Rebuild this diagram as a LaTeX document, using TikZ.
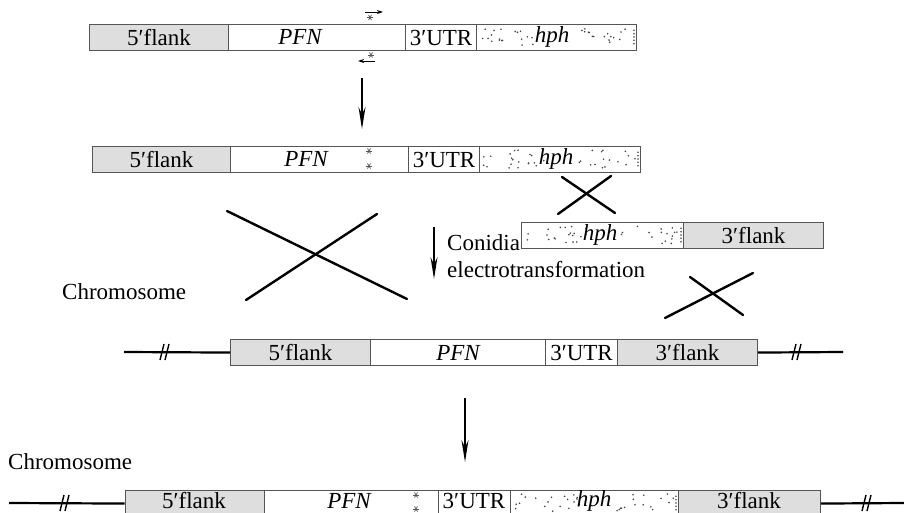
\documentclass[tikz,border=0pt]{standalone}
\usepackage{fontspec}
\setmainfont{Liberation Serif}
\usetikzlibrary{arrows.meta}
\definecolor{flankgray}{RGB}{222,222,222}
\definecolor{edgegray}{RGB}{85,85,85}
\definecolor{dotgray}{RGB}{70,70,70}

% scatter of small dots inside the marker segment: x0, y0, width, height, seed
\newcommand\stipple[5]{%
  \pgfmathsetseed{#5}%
  \foreach \k in {1,...,20}{%
    \pgfmathsetmacro\px{#1+4+rnd*(#3*0.40)}%
    \pgfmathsetmacro\py{#2+4+rnd*(#4-8)}%
    \fill[dotgray] (\px,\py) circle (0.9);
  }%
  \foreach \k in {1,...,16}{%
    \pgfmathsetmacro\px{#1+#3*0.62+rnd*(#3*0.38-4)}%
    \pgfmathsetmacro\py{#2+4+rnd*(#4-8)}%
    \fill[dotgray] (\px,\py) circle (0.9);
  }%
  \foreach \k in {1,...,5}{%
    \pgfmathsetmacro\py{#2+3+\k*(#4-6)/6}%
    \fill[dotgray] (#1+#3-2,\py) circle (0.9);
  }%
}

\begin{document}
\begin{tikzpicture}[x=1pt,y=-1pt,
  seg/.style={draw=edgegray, line width=1.1pt, minimum height=26pt,
    inner sep=0pt, anchor=north west, font=\fontsize{23}{25}\selectfont},
  flank/.style={seg, fill=flankgray},
  plain/.style={seg, fill=white},
  lbl/.style={inner sep=0pt, font=\fontsize{23}{25}\selectfont},
  mainarrow/.style={line width=1.4pt, -{Stealth[length=22pt,width=7pt]}},
  primer/.style={line width=0.9pt, -{Stealth[length=6pt,width=4pt]}},
  crossline/.style={line width=2.4pt, line cap=round},
  chrom/.style={line width=2.2pt},
  breakmark/.style={line width=1.4pt},
  pics/astr/.style={code={
    \foreach \a in {0,60,120}
      \draw[line width=0.7pt, edgegray] (\a:3) -- (\a+180:3);
  }}
]
\useasboundingbox (0,0) rectangle (904,513);

% ---- construct, top row
\node[flank, minimum width=139pt] (r1a) at (89,24) {5′flank};
\node[plain, minimum width=177pt] (r1b) at (228,24) {};
\node[plain, minimum width=71pt] (r1c) at (405,24) {3′UTR};
\node[plain, minimum width=160pt] (r1d) at (476,24) {};
\stipple{476}{24}{160}{26}{11}
\node[lbl] (r1t) at (300,37) {\itshape PFN};
\node[lbl] (r1h) at (552,37) {\itshape hph};
\draw[primer] (365,12) coordinate (p1s) -- (383,12) coordinate (p1e);
\pic at (370,17.5) {astr};
\draw[primer] (375,61) coordinate (p2s) -- (358,61) coordinate (p2e);
\pic at (371,55) {astr};

% ---- mutated construct
\node[flank, minimum width=138pt] (r2a) at (92,146) {5′flank};
\node[plain, minimum width=178pt] (r2b) at (230,146) {};
\node[plain, minimum width=71pt] (r2c) at (408,146) {3′UTR};
\node[plain, minimum width=161pt] (r2d) at (479,146) {};
\stipple{479}{146}{161}{26}{23}
\node[lbl] (r2t) at (306,159) {\itshape PFN};
\node[lbl] (r2h) at (556,159) {\itshape hph};
\pic at (369,151) {astr};
\pic at (369,166) {astr};

% ---- marker with 3' flank
\node[plain, minimum width=162pt] (r3a) at (521,222) {};
\stipple{521}{222}{162}{26}{37}
\node[lbl] (r3h) at (600,235) {\itshape hph};
\node[flank, minimum width=140pt] (r3b) at (683,222) {3′flank};

% ---- wild-type chromosome
\node[flank, minimum width=140pt] (r4a) at (230,339) {5′flank};
\node[plain, minimum width=175pt] (r4b) at (370,339) {\itshape PFN};
\node[plain, minimum width=72pt] (r4c) at (545,339) {3′UTR};
\node[flank, minimum width=140pt] (r4d) at (617,339) {3′flank};
\coordinate (c4l) at (124,352);
\coordinate (c4r) at (843,352);
\draw[chrom] (c4l) -- (r4a.west);
\draw[chrom] (r4d.east) -- (c4r);
\draw[breakmark] (160,360) -- (164,344) (165,360) -- (169,344);
\draw[breakmark] (792,360) -- (796,344) (797,360) -- (801,344);
\node[lbl, anchor=west] (chr1) at (62,292) {Chromosome};

% ---- recombinant chromosome (runs off the lower edge)
\node[flank, minimum width=139pt] (r5a) at (124.6,490) {};
\node[plain, minimum width=174.4pt] (r5b) at (263.6,490) {};
\node[plain, minimum width=72pt] (r5c) at (438,490) {};
\node[plain, minimum width=168pt] (r5d) at (510,490) {};
\stipple{510}{490}{168}{26}{51}
\node[flank, minimum width=142pt] (r5e) at (678,490) {};
\node[lbl] (r5fa) at (194,501) {5′flank};
\node[lbl] (r5t) at (349,501) {\itshape PFN};
\node[lbl] (r5u) at (474,501) {3′UTR};
\node[lbl] (r5h) at (594,501) {\itshape hph};
\node[lbl] (r5fb) at (749,501) {3′flank};
\pic at (416,495) {astr};
\pic at (416,509) {astr};
\coordinate (c5l) at (9,503);
\coordinate (c5r) at (904,503);
\draw[chrom] (c5l) -- (r5a.west);
\draw[chrom] (r5e.east) -- (c5r);
\draw[breakmark] (60,511) -- (64,495) (65,511) -- (69,495);
\draw[breakmark] (862,511) -- (866,495) (867,511) -- (871,495);
\node[lbl, anchor=west] (chr2) at (8,462) {Chromosome};

% ---- process arrows
\coordinate (a1s) at (362,78);
\coordinate (a1e) at (362,129);
\draw[mainarrow] (a1s) -- (a1e);
\coordinate (a2s) at (434,227);
\coordinate (a2e) at (434,279);
\draw[mainarrow] (a2s) -- (a2e);
\coordinate (a3s) at (465,398);
\coordinate (a3e) at (465,462);
\draw[mainarrow] (a3s) -- (a3e);
\node[lbl, anchor=west] (cap1) at (447,243) {Conidia};
\node[lbl, anchor=west] (cap2) at (447,270) {electrotransformation};

% ---- crossover marks
\draw[crossline] (227,211) -- (407,299);
\draw[crossline] (377,214) -- (246,300);
\draw[crossline] (558,214) -- (611,176);
\draw[crossline] (562,177) -- (615,213);
\draw[crossline] (665,318) -- (753,273);
\draw[crossline] (690,277) -- (743,315);
\end{tikzpicture}
\end{document}
